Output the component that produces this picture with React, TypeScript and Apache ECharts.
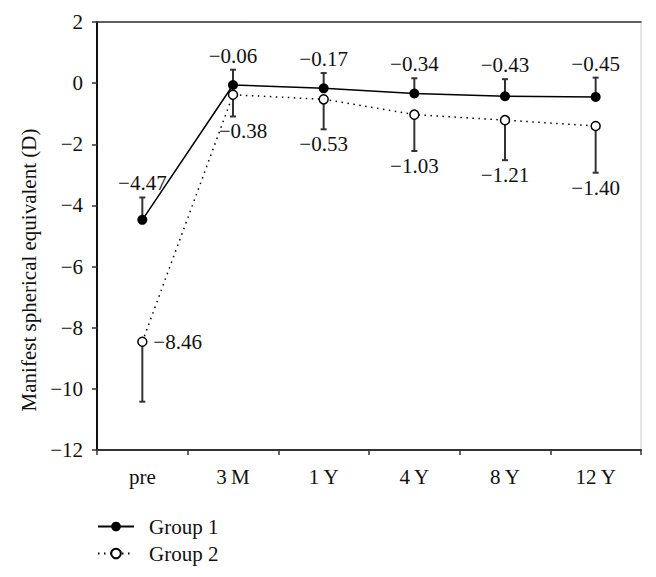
import React, { useEffect, useRef } from "react";
import * as echarts from "echarts";

const categories = ["pre", "3\u2009M", "1\u2009Y", "4\u2009Y", "8\u2009Y", "12\u2009Y"];
const group1Mean = [-4.47, -0.06, -0.17, -0.34, -0.43, -0.45];
const group1SD = [0.73, 0.5, 0.5, 0.5, 0.56, 0.63];
const group2Mean = [-8.46, -0.38, -0.53, -1.03, -1.21, -1.4];
const group2SD = [1.96, 0.71, 0.98, 1.19, 1.31, 1.53];
const yTicks = { min: -12, max: 2, interval: 2 };

const FONT = "'Liberation Serif', 'Times New Roman', serif";
const FS = 21;
const fmt = (v: number) => (v < 0 ? "\u2212" : "") + Math.abs(v).toFixed(2);

export default function App() {
  const ref = useRef<HTMLDivElement>(null);
  useEffect(() => {
    if (!ref.current) return;
    const chart = echarts.init(ref.current, null, { renderer: "svg" });

    const errData = (means: number[], sds: number[], dir: number) =>
      means.map((m, i) => [i, m, sds[i], dir]);

    const renderErr = (group: number) => (params: any, api: any) => {
      const idx = api.value(0);
      const mean = api.value(1);
      const sd = api.value(2);
      const dir = api.value(3);
      const p = api.coord([idx, mean]);
      const e = api.coord([idx, mean + dir * sd]);
      const cap = 3;
      let tx = p[0];
      let ty = dir > 0 ? e[1] - 14 : e[1] + 15;
      let align = "center";
      if (group === 2 && params.dataIndex === 0) {
        tx = p[0] + 11;
        ty = p[1];
        align = "left";
      } else if (group === 2 && params.dataIndex === 1) {
        tx = p[0] + 10;
      }
      return {
        type: "group",
        children: [
          {
            type: "line",
            shape: { x1: p[0], y1: p[1], x2: e[0], y2: e[1] },
            style: { stroke: "#333", lineWidth: 2 },
          },
          {
            type: "line",
            shape: { x1: e[0] - cap, y1: e[1], x2: e[0] + cap, y2: e[1] },
            style: { stroke: "#333", lineWidth: 2 },
          },
          {
            type: "text",
            x: tx,
            y: ty,
            style: {
              text: fmt(mean),
              fontSize: FS,
              fontFamily: FONT,
              fill: "#111",
              align,
              verticalAlign: "middle",
            },
          },
        ],
      };
    };

    chart.setOption({
      animation: false,
      backgroundColor: "#fff",
      grid: { left: 89, right: 7, top: 14, bottom: 119, show: true, borderColor: "#ccc", borderWidth: 1 },
      xAxis: [
        {
          type: "category",
          data: categories,
          boundaryGap: true,
          axisLine: { onZero: false, lineStyle: { color: "#333", width: 2 } },
          axisTick: { show: true, length: 5, lineStyle: { color: "#333", width: 1.5 } },
          axisLabel: { fontSize: FS, fontFamily: FONT, color: "#111", margin: 16 },
        },
        {
          type: "category",
          data: categories,
          position: "top",
          axisLine: { onZero: false, lineStyle: { color: "#333", width: 1.5 } },
          axisTick: { show: false },
          axisLabel: { show: false },
        },
      ],
      yAxis: {
        type: "value",
        min: yTicks.min,
        max: yTicks.max,
        interval: yTicks.interval,
        axisLine: { show: true, onZero: false, lineStyle: { color: "#111", width: 2 } },
        axisTick: { show: true, length: 5, lineStyle: { color: "#333", width: 1.5 } },
        splitLine: { show: false },
        axisLabel: {
          fontSize: FS,
          fontFamily: FONT,
          color: "#111",
          margin: 14,
          formatter: (v: number) => (v < 0 ? "\u2212" + Math.abs(v) : String(v)),
        },
      },
      legend: {
        data: ["Group 1", "Group 2"],
        orient: "vertical",
        left: 89,
        top: 508,
        itemWidth: 36,
        itemHeight: 12,
        itemGap: 6,
        padding: 0,
        textStyle: { fontSize: FS, fontFamily: FONT, color: "#111", padding: [0, 0, 0, 10] },
      },
      graphic: [
        {
          type: "text",
          x: 21,
          y: 262,
          rotation: Math.PI / 2,
          style: {
            text: "Manifest spherical equivalent (D)",
            fontSize: FS,
            fontFamily: FONT,
            fill: "#111",
            align: "center",
            verticalAlign: "middle",
          },
        },
      ],
      series: [
        {
          type: "custom",
          name: "err1",
          z: 1,
          renderItem: renderErr(1),
          data: errData(group1Mean, group1SD, 1),
          encode: { x: 0, y: 1 },
        },
        {
          type: "custom",
          name: "err2",
          z: 1,
          renderItem: renderErr(2),
          data: errData(group2Mean, group2SD, -1),
          encode: { x: 0, y: 1 },
        },
        {
          type: "line",
          name: "Group 1",
          z: 3,
          data: group1Mean,
          symbol: "circle",
          symbolSize: 10,
          lineStyle: { color: "#000", width: 1.5 },
          itemStyle: { color: "#000" },
        },
        {
          type: "line",
          name: "Group 2",
          z: 3,
          data: group2Mean,
          symbol: "circle",
          symbolSize: 9,
          lineStyle: { color: "#000", width: 1.5, type: [1.5, 4.5] },
          itemStyle: { color: "#fff", borderColor: "#000", borderWidth: 1.5 },
        },
      ],
    });
    return () => chart.dispose();
  }, []);
  return <div ref={ref} style={{ width: 640, height: 561 }} />;
}
